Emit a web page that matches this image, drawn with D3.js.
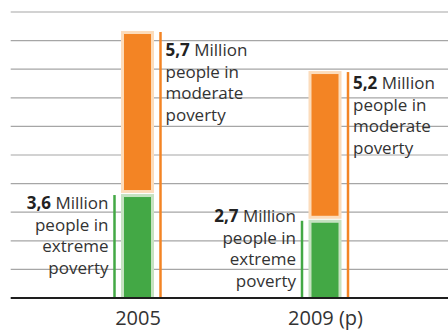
<!DOCTYPE html>
<html>
<head>
<meta charset="utf-8">
<script src="https://cdn.jsdelivr.net/npm/d3@7"></script>
<style>
  body { margin: 0; background: #fff; }
  svg text { font-family: "Open Sans", "Noto Sans", sans-serif; fill: #333; }
</style>
</head>
<body>
<svg id="chart" width="448" height="332"></svg>
<script>
"use strict"

// data (million people)
const years = ["2005", "2009 (p)"];
const extreme = [3.6, 2.7];
const moderate = [5.7, 5.2];
const extremeText = ["3,6", "2,7"];
const moderateText = ["5,7", "5,2"];
const labelWords = {
  extreme: ["people in", "extreme", "poverty"],
  moderate: ["people in", "moderate", "poverty"]
};

// label nudges (px) - hand placed in the original
const greenShift = [14, 1.5];
const orangeShift = [24, 17];

const svg = d3.select("#chart");
const plotLeft = 10.7, plotRight = 448, plotBottom = 298, plotTop = 12;

const y = d3.scaleLinear().domain([0, 10]).range([plotBottom, plotTop]);
const x = d3.scalePoint().domain(years).range([137.5, 325]);

const orange = "#f38424", orangePale = "#fcdcbb";
const green = "#43a845", greenPale = "#c6e2c1";
const barW = 33, inset = 3, lineOff = 23, lineH = 21.6;

// grid lines
svg.append("g")
  .selectAll("line")
  .data(y.ticks(10).filter(d => d > 0))
  .join("line")
    .attr("x1", plotLeft).attr("x2", plotRight)
    .attr("y1", d => y(d)).attr("y2", d => y(d))
    .attr("stroke", "#a6a6a6")
    .attr("stroke-width", 1.2);

// bars
years.forEach((yr, i) => {
  let cx = x(yr);
  let tot = extreme[i] + moderate[i];
  let g = svg.append("g");

  // moderate (orange) segment
  g.append("rect")
    .attr("x", cx - barW / 2).attr("y", y(tot) - 1)
    .attr("width", barW).attr("height", y(extreme[i]) - y(tot) - 1)
    .attr("fill", orangePale);
  g.append("rect")
    .attr("x", cx - barW / 2 + inset).attr("y", y(tot) - 1 + inset)
    .attr("width", barW - 2 * inset).attr("height", y(extreme[i]) - y(tot) - 1 - 2 * inset)
    .attr("fill", orange);

  // extreme (green) segment
  g.append("rect")
    .attr("x", cx - barW / 2).attr("y", y(extreme[i]) - 1)
    .attr("width", barW).attr("height", y(0) - y(extreme[i]) + 1)
    .attr("fill", greenPale);
  g.append("rect")
    .attr("x", cx - barW / 2 + inset).attr("y", y(extreme[i]) - 1 + inset)
    .attr("width", barW - 2 * inset).attr("height", y(0) - y(extreme[i]) + 1 - inset)
    .attr("fill", green);

  // marker lines
  g.append("line")
    .attr("x1", cx - lineOff).attr("x2", cx - lineOff)
    .attr("y1", y(extreme[i])).attr("y2", y(0))
    .attr("stroke", green).attr("stroke-width", 2.5);
  g.append("line")
    .attr("x1", cx + lineOff).attr("x2", cx + lineOff)
    .attr("y1", y(tot)).attr("y2", y(0))
    .attr("stroke", orange).attr("stroke-width", 2.5);

  // green label (right aligned, left of the bar)
  let gt = g.append("text")
    .attr("text-anchor", "end")
    .attr("font-size", 17);
  let first = gt.append("tspan")
    .attr("x", cx - lineOff - 6).attr("y", y(extreme[i]) + greenShift[i]);
  first.append("tspan").attr("font-weight", "bold").style("fill", "#222").text(extremeText[i]);
  first.append("tspan").text(" Million");
  labelWords.extreme.forEach((w, k) => {
    gt.append("tspan")
      .attr("x", cx - lineOff - 6)
      .attr("y", y(extreme[i]) + greenShift[i] + (k + 1) * lineH)
      .text(w);
  });

  // orange label (left aligned, right of the bar)
  let ot = g.append("text")
    .attr("font-size", 17);
  let f2 = ot.append("tspan")
    .attr("x", cx + lineOff + 5).attr("y", y(tot) + orangeShift[i]);
  f2.append("tspan").attr("font-weight", "bold").style("fill", "#222").text(moderateText[i]);
  f2.append("tspan").text(" Million");
  labelWords.moderate.forEach((w, k) => {
    ot.append("tspan")
      .attr("x", cx + lineOff + 5)
      .attr("y", y(tot) + orangeShift[i] + (k + 1) * lineH)
      .text(w);
  });
});

// base line
svg.append("line")
  .attr("x1", plotLeft).attr("x2", plotRight)
  .attr("y1", y(0)).attr("y2", y(0))
  .attr("stroke", "#1e1e1e").attr("stroke-width", 2.2);

// x axis labels
let xAxis = svg.append("g")
  .attr("transform", `translate(0,${plotBottom})`)
  .call(d3.axisBottom(x).tickSize(0).tickPadding(13));
xAxis.select(".domain").remove();
xAxis.selectAll("text")
  .attr("font-size", 20)
  .attr("font-family", null)
  .style("fill", "#333");
</script>
</body>
</html>
